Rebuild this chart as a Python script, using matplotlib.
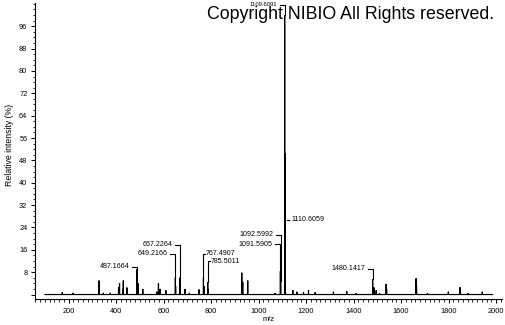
import numpy as np
import matplotlib
matplotlib.use("Agg")
import matplotlib.pyplot as plt
from matplotlib.ticker import MultipleLocator, FixedLocator

plt.rcParams['font.family'] = ['Liberation Sans', 'DejaVu Sans']

# ---- data (m/z, relative intensity %) ----
peak_mz = [173, 218, 328, 346, 375, 410, 414, 428, 430, 445, 487.1664, 492, 512,
           571, 578, 585, 609, 649.2166, 650.2, 667.2264, 668.2, 690, 708, 749,
           767.4907, 769.5, 785.5011, 787.5, 929, 933, 954, 1069, 1091.5905,
           1092.5992, 1109.6091, 1110.6059, 1111.6, 1112.6, 1144, 1161, 1189,
           1210, 1238, 1315, 1371, 1411, 1480.1417, 1486, 1495, 1509, 1537,
           1539, 1663, 1665, 1711, 1799, 1848, 1850, 1881, 1942]
peak_int = [0.8, 0.6, 5.0, 0.6, 0.6, 2.5, 4.0, 2.0, 5.0, 2.5, 9.0, 4.0, 2.0,
            1.0, 4.0, 2.0, 1.5, 6.0, 3.0, 6.0, 5.5, 2.0, 0.6, 1.8,
            6.0, 3.0, 4.4, 2.0, 7.8, 4.5, 5.0, 0.5, 8.3,
            5.0, 100.0, 50.5, 17.5, 5.0, 1.5, 1.0, 0.8,
            1.5, 0.8, 1.0, 1.2, 0.5, 5.5, 2.5, 1.5, 0.5, 3.8,
            2.0, 5.8, 3.0, 0.5, 1.0, 2.6, 1.5, 0.5, 1.0]
scan_range = [100, 1985]

# labelled peaks
lab_mz = [487.1664, 649.2166, 667.2264, 1092.5992, 1091.5905, 1109.6091, 1480.1417,
          767.4907, 785.5011, 1110.6059]
lab_text = ["487.1664", "649.2166", "667.2264", "1092.5992", "1091.5905", "1109.6091",
            "1480.1417", "767.4907", "785.5011", "1110.6059"]
lab_y = [10.0, 14.5, 17.75, 21.4, 18.0, 103.6, 9.3, 14.5, 11.9, 26.8]
lab_side = ["L", "L", "L", "L", "L", "L", "L", "R", "R", "D"]

x_ticks = list(range(200, 2001, 200))
y_ticks = list(range(0, 97, 8))

# ---- figure ----
W, H = 505, 325
fig = plt.figure(figsize=(W / 100, H / 100), dpi=100)
ax = fig.add_axes([35 / W, 26 / H, 467 / W, 296 / H])

# build profile line from peaks
order = np.argsort(peak_mz)
xs = [scan_range[0]]
ys = [0.0]
for i in order:
    m, h = peak_mz[i], peak_int[i]
    xs += [m - 0.45, m, m + 0.45]
    ys += [0.0, h, 0.0]
xs.append(scan_range[1])
ys.append(0.0)
ax.plot(xs, ys, color='black', lw=0.85, solid_joinstyle='miter')

ax.set_xlim(58, 2025)
ax.set_ylim(-1.6, 104.3)

# ---- peak labels with brackets ----
px = (2025 - 58) / 467.0  # m/z per pixel
lab_fs = 5.1
for m, t, ly, side in zip(lab_mz, lab_text, lab_y, lab_side):
    h = peak_int[peak_mz.index(m)]
    fs = 4.2 if m == 1109.6091 else lab_fs
    if side == "L":
        xend = m - 5 * px
        ax.plot([xend, m, m], [ly, ly, max(h, 0)], color='black', lw=0.8)
        ax.text(xend - 2.5 * px, ly, t, ha='right', va='center', fontsize=fs)
    elif side == "R":
        ax.plot([m, m, m + 2 * px], [max(h, 0), ly, ly], color='black', lw=0.8)
        ax.text(m + 2.5 * px, ly, t, ha='left', va='center', fontsize=fs)
    else:
        ax.plot([m + 2.5 * px, m + 4.5 * px], [ly, ly], color='black', lw=0.8)
        ax.text(m + 6.5 * px, ly, t, ha='left', va='center', fontsize=fs)

# ---- axes styling ----
for s in ['top', 'right']:
    ax.spines[s].set_visible(False)
for s in ['left', 'bottom']:
    ax.spines[s].set_linewidth(0.8)

ax.xaxis.set_major_locator(FixedLocator(x_ticks))
ax.xaxis.set_minor_locator(MultipleLocator(20))
ax.yaxis.set_major_locator(FixedLocator(y_ticks))
ax.yaxis.set_minor_locator(MultipleLocator(2))
ax.set_xticklabels([str(v) for v in x_ticks])
ax.set_yticklabels(["" if v == 0 else str(v) for v in y_ticks])
ax.tick_params(axis='both', which='major', length=3.0, width=0.7, labelsize=5.3, pad=2.5)
ax.tick_params(axis='both', which='minor', length=1.8, width=0.6)
ax.tick_params(axis='x', which='major', pad=3.5)

ax.set_xlabel("m/z", fontsize=5.5, labelpad=1)
ax.set_ylabel("Relative intensity (%)", fontsize=6.3)
ax.yaxis.set_label_coords(-0.045, 0.52)

fig.text(207 / W, 1 - 19 / H, "Copyright NIBIO All Rights reserved.",
         fontsize=12.8, ha='left', va='baseline', color='black')

fig.savefig("out.png", dpi=100)
